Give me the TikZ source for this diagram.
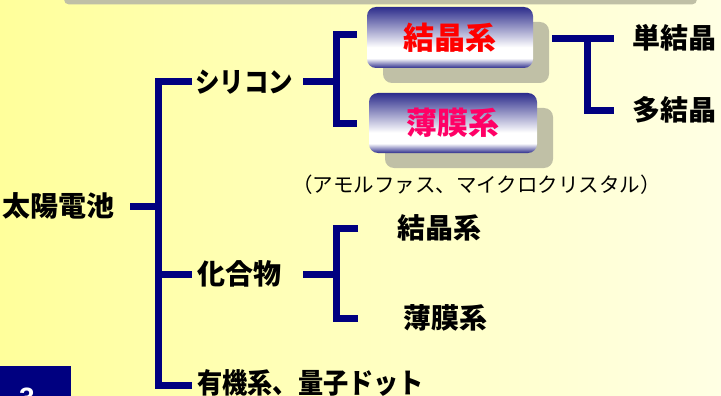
\documentclass[tikz,border=0pt]{standalone}
\usepackage{fontspec}
\setmainfont{Liberation Sans}
\newfontfamily\jp{Noto Sans CJK JP}
\usetikzlibrary{shadows}
\definecolor{navyline}{RGB}{0,0,128}
\definecolor{boxblue}{RGB}{45,45,140}
\definecolor{shadowgray}{RGB}{192,192,166}
\definecolor{bgleft}{RGB}{255,255,155}
\definecolor{bgright}{RGB}{255,255,228}
\definecolor{pinkred}{RGB}{255,0,102}
\pgfdeclareverticalshading{boxshade}{100bp}{color(0bp)=(boxblue); color(25bp)=(boxblue); color(33bp)=(white); color(42bp)=(white); color(75bp)=(boxblue); color(100bp)=(boxblue)}
\begin{document}
\begin{tikzpicture}[x=1pt,y=-1pt,
  br/.style={draw=navyline,line width=7pt},
  lbl/.style={inner sep=0pt,font=\jp\bfseries\fontsize{28}{30}\selectfont,anchor=west},
  note/.style={inner sep=0pt,font=\jp\fontsize{20.5}{22}\selectfont,anchor=west,text=black},
  boxnode/.style={rounded corners=9pt,shading=boxshade,inner sep=0pt,
    font=\jp\bfseries\fontsize{31}{33}\selectfont,
    drop shadow={shadow xshift=16pt,shadow yshift=-15pt,fill=shadowgray,opacity=1}}]
\useasboundingbox (0,0) rectangle (721,396);
\clip (0,0) rectangle (721,396);
\fill[left color=bgleft,right color=bgright] (0,0) rectangle (721,396);
\fill[shadowgray,rounded corners=5pt] (64,-10) rectangle (697,4.5);

% boxes
\node[boxnode,minimum width=166pt,minimum height=61pt,text=red] (kb) at (450,37.5) {結晶系};
\node[boxnode,minimum width=168pt,minimum height=60pt,text=pinkred] (hb) at (453,123) {薄膜系};

% labels
\node[lbl] (taiyo) at (2,206) {太陽電池};
\node[lbl] (sil) at (195,82) {\scalebox{0.875}[1]{シリコン}};
\node[lbl] (kago) at (197,274) {化合物};
\node[lbl] (yuki) at (197,383) {\scalebox{0.9}[1]{有機系、量子ドット}};
\node[lbl] (tan) at (632,38) {単結晶};
\node[lbl] (ta) at (632,110) {多結晶};
\node[note] (amo) at (292,185) {（アモルファス、マイクロクリスタル）};
\node[lbl] (k2) at (397,228) {結晶系};
\node[lbl] (h2) at (403,318) {薄膜系};

% bracket corner coordinates
\coordinate (mT) at (158,82);
\coordinate (mB) at (158,385);
\coordinate (sT) at (336,35);
\coordinate (sB) at (336,124);
\coordinate (cT) at (336,228);
\coordinate (cB) at (336,318);
\coordinate (rT) at (587,39);
\coordinate (rB) at (587,111);

% main bracket
\draw[br] (192,82) -- (mT) -- (mB) -- (192,385);
\draw[br] (158,274) -- (192,274);
\draw[br] (130,206) -- (158,206);
% silicon bracket
\draw[br] (303,82) -- (336,82);
\draw[br] (357,35) -- (sT) -- (sB) -- (357,124);
% compound bracket
\draw[br] (303,274) -- (336,274);
\draw[br] (358,228) -- (cT) -- (cB) -- (358,318);
% crystal bracket
\draw[br] (552,39) -- (614,39);
\draw[br] (rT) -- (rB) -- (614,111);

% slide number
\fill[navyline] (0,366) rectangle (71,400);
\node[inner sep=0pt,text=white,font=\bfseries\fontsize{28}{30}\selectfont] (num) at (27,398) {3};
\end{tikzpicture}
\end{document}
